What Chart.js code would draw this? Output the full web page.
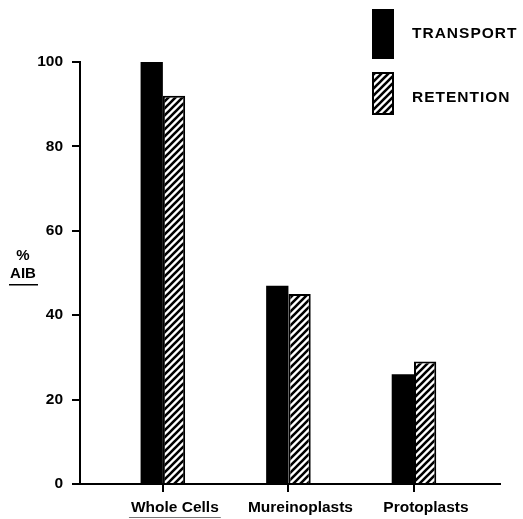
<!DOCTYPE html>
<html lang="en">
<head>
<meta charset="UTF-8">
<title>% AIB transport and retention</title>
<script src="https://cdn.jsdelivr.net/npm/chart.js"></script>
<style>
    body { margin: 0; padding: 0; background: #fff; }
    #wrap { width: 523px; height: 519px; }
</style>
</head>
<body>
<div id="wrap"><canvas id="chart" width="523" height="519"></canvas></div>
<script>
    // values
    var categories = ['Whole Cells', 'Mureinoplasts', 'Protoplasts'];
    var transport = [100, 47, 26];
    var retention = [92, 45, 29];
    var seriesNames = ['TRANSPORT', 'RETENTION'];
    var yTicks = [0, 20, 40, 60, 80, 100];

    var FONT = '"Liberation Sans", Arial, sans-serif';

    function hatch() {
        var c = document.createElement('canvas');
        c.width = c.height = 7;
        var g = c.getContext('2d');
        g.fillStyle = '#fff';
        g.fillRect(0, 0, 7, 7);
        g.strokeStyle = '#000';
        g.lineWidth = 2.6;
        g.beginPath();
        g.moveTo(-1, 8); g.lineTo(8, -1);
        g.moveTo(-1, 1); g.lineTo(1, -1);
        g.moveTo(6, 8); g.lineTo(8, 6);
        g.stroke();
        return g.createPattern(c, 'repeat');
    }
    var stripes = hatch();

    // legend, y title and the underline are drawn by hand
    var extras = {
        id: 'extras',
        afterDraw: function(chart) {
            var ctx = chart.ctx;
            ctx.save();
            // legend
            ctx.fillStyle = '#000';
            ctx.fillRect(372, 9, 22, 50);
            ctx.fillStyle = stripes;
            ctx.fillRect(372, 72, 22, 43);
            ctx.strokeStyle = '#000';
            ctx.lineWidth = 2;
            ctx.strokeRect(373, 73, 20, 41);
            ctx.fillStyle = '#000';
            ctx.font = 'bold 15.5px ' + FONT;
            ctx.letterSpacing = '1px';
            ctx.textBaseline = 'middle';
            ctx.textAlign = 'left';
            ctx.fillText(seriesNames[0], 412, 34);
            ctx.fillText(seriesNames[1], 412, 98);
            ctx.letterSpacing = '0px';
            // y axis title
            ctx.textAlign = 'center';
            ctx.font = 'bold 15px ' + FONT;
            ctx.fillText('%', 23, 256);
            ctx.fillText('AIB', 23, 274);
            ctx.fillRect(9, 284, 29, 1.5);
            // underline under the first category label
            var x = chart.scales.x.getPixelForValue(1) + 12;
            ctx.font = 'bold 15.5px ' + FONT;
            var w = ctx.measureText(categories[0]).width;
            ctx.fillStyle = '#777';
            ctx.fillRect(x - w / 2 - 2, 517, w + 4, 1);
            ctx.restore();
        }
    };

    new Chart(document.getElementById('chart'), {
        type: 'bar',
        data: {
            datasets: [
                {
                    label: seriesNames[0],
                    data: transport.map(function(v, i) { return { x: i + 1, y: v }; }),
                    backgroundColor: '#000',
                    borderWidth: 0,
                    categoryPercentage: 0.355,
                    barPercentage: 1.0
                },
                {
                    label: seriesNames[1],
                    data: retention.map(function(v, i) { return { x: i + 1, y: v }; }),
                    backgroundColor: stripes,
                    borderColor: '#000',
                    borderWidth: 2,
                    categoryPercentage: 0.355,
                    barPercentage: 1.0
                }
            ]
        },
        options: {
            responsive: false,
            animation: false,
            layout: { padding: { top: 62, right: 23, left: 0, bottom: 0 } },
            plugins: { legend: { display: false }, tooltip: { enabled: false } },
            scales: {
                x: {
                    type: 'linear',
                    min: 0.34,
                    max: 3.685,
                    offset: false,
                    afterBuildTicks: function(scale) {
                        scale.ticks = categories.map(function(c, i) { return { value: i + 1 }; });
                    },
                    afterFit: function(scale) { scale.height = 35; },
                    border: { color: '#000', width: 2 },
                    grid: { offset: false, drawOnChartArea: false, tickLength: 8, color: '#000', lineWidth: 2 },
                    ticks: {
                        color: '#000',
                        padding: 6,
                        labelOffset: 12,
                        font: { family: FONT, size: 15.5, weight: 'bold' },
                        callback: function(v) { return categories[v - 1]; }
                    }
                },
                y: {
                    min: 0,
                    max: 100,
                    afterBuildTicks: function(scale) {
                        scale.ticks = yTicks.map(function(v) { return { value: v }; });
                    },
                    afterFit: function(scale) { scale.width = 80; },
                    border: { color: '#000', width: 2 },
                    grid: { drawOnChartArea: false, tickLength: 8, color: '#000', lineWidth: 2 },
                    ticks: {
                        color: '#000',
                        padding: 9,
                        font: { family: FONT, size: 15.5, weight: 'bold' }
                    }
                }
            }
        },
        plugins: [extras]
    });
</script>
</body>
</html>
